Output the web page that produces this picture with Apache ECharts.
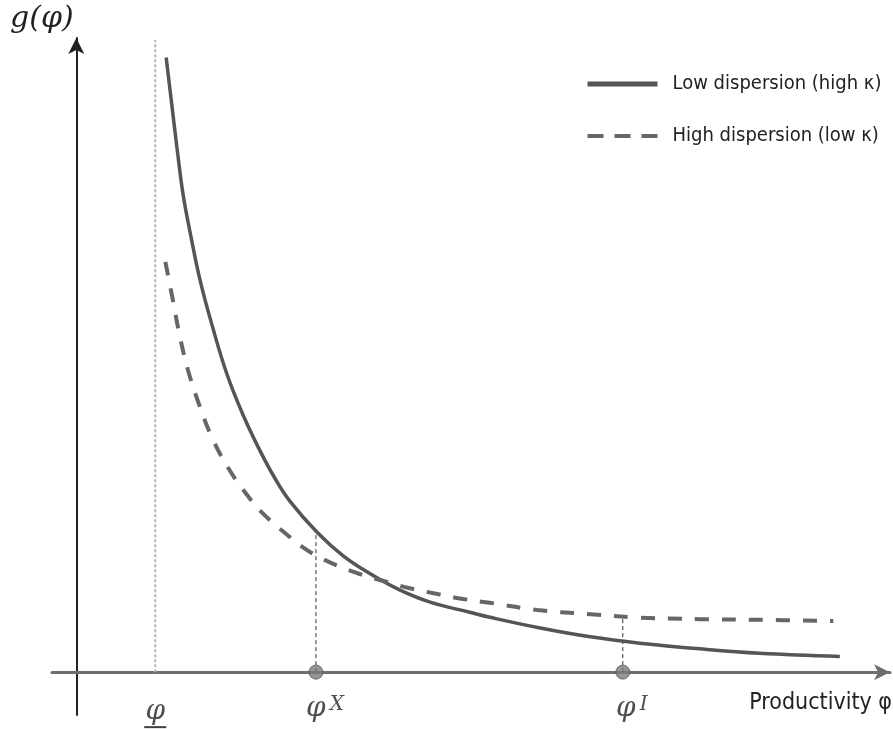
<!DOCTYPE html>
<html>
<head>
<meta charset="utf-8">
<script src="https://cdn.jsdelivr.net/npm/echarts@6/dist/echarts.min.js"></script>
<style>
html, body { margin: 0; padding: 0; background: #fff; }
#chart { width: 893px; height: 729px; }
</style>
</head>
<body>
<div id="chart"></div>
<script>
// 实线：低离散度 (高 kappa)
const lowDispX = [1.11, 1.19, 1.25, 1.32, 1.41, 1.53, 1.68, 1.86, 2.06, 2.27, 2.46, 2.64, 2.98, 3.30, 3.63, 4.00, 4.37, 4.86, 5.11, 5.73, 6.35, 6.96, 7.70, 8.44, 9.43];
const lowDispY = [9.75, 8.89, 8.25, 7.57, 6.95, 6.21, 5.49, 4.73, 4.08, 3.51, 3.06, 2.71, 2.21, 1.84, 1.56, 1.30, 1.11, 0.95, 0.87, 0.70, 0.56, 0.46, 0.37, 0.30, 0.25];
// 虚线：高离散度 (低 kappa)
const highDispX = [1.10, 1.19, 1.28, 1.38, 1.51, 1.68, 1.90, 2.11, 2.31, 2.64, 2.80, 3.05, 3.47, 3.84, 4.12, 4.46, 4.78, 5.11, 5.73, 6.35, 6.88, 7.70, 8.44, 9.35];
const highDispY = [6.51, 5.92, 5.32, 4.79, 4.27, 3.71, 3.19, 2.81, 2.51, 2.14, 1.98, 1.79, 1.57, 1.43, 1.33, 1.24, 1.16, 1.10, 0.98, 0.92, 0.87, 0.84, 0.83, 0.81];
const seriesNames = ['Low dispersion (high κ)', 'High dispersion (low κ)'];

// 几个临界生产率
const phiLow = 0.975;
const phiLowTop = 10.03;
const phiX = 2.96;
const gAtPhiX = 2.22;
const phiI = 6.75;
const gAtPhiI = 0.87;

const textFont = "'Liberation Sans Narrow', 'DejaVu Sans Condensed', 'Liberation Sans', sans-serif";
const mathFont = "'DejaVu Serif', 'Liberation Serif', serif";

function zip(xs, ys) {
    return xs.map((x, i) => [x, ys[i]]);
}

let chart = echarts.init(document.getElementById('chart'));

chart.setOption({
    animation: false,
    backgroundColor: '#fff',
    grid: { left: 52, right: 3, top: 38, bottom: 14 },
    legend: {
        orient: 'vertical',
        left: 580,
        top: 69,
        itemWidth: 70,
        itemHeight: 14,
        itemGap: 32,
        itemStyle: { opacity: 0 },
        data: [
            { name: seriesNames[0], lineStyle: { color: '#555', width: 5, type: 'solid' } },
            { name: seriesNames[1], lineStyle: { color: '#666', width: 4, type: [16, 11] } }
        ],
        textStyle: { fontFamily: textFont, fontSize: 20, color: '#222', padding: [0, 0, 0, 10] }
    },
    xAxis: {
        type: 'value',
        min: -0.3,
        max: 10.05,
        axisLine: {
            onZero: true,
            symbol: ['none', 'arrow'],
            symbolSize: [12, 16],
            lineStyle: { color: '#6e6e6e', width: 3 }
        },
        axisTick: { show: false },
        axisLabel: { show: false },
        splitLine: { show: false }
    },
    yAxis: {
        type: 'value',
        min: -0.68,
        max: 10.06,
        axisLine: {
            onZero: true,
            symbol: ['none', 'arrow'],
            symbolSize: [12, 16],
            lineStyle: { color: '#222', width: 2 }
        },
        axisTick: { show: false },
        axisLabel: { show: false },
        splitLine: { show: false }
    },
    graphic: [
        {
            type: 'text', left: 10, top: 4,
            style: { text: 'g(φ)', font: 'italic 30px ' + mathFont, fill: '#222' }
        },
        {
            type: 'text', right: 1, top: 692,
            style: { text: 'Productivity φ', font: '23px ' + textFont, fill: '#222' }
        }
    ],
    series: [
        {
            name: 'cutoff',
            type: 'line',
            data: [[phiLow, 0], [phiLow, phiLowTop]],
            symbol: 'none',
            silent: true,
            lineStyle: { color: '#b5b5b5', width: 2, type: [3, 2] },
            z: 1
        },
        {
            name: 'phiX line',
            type: 'line',
            data: [[phiX, 0], [phiX, gAtPhiX]],
            symbol: 'none',
            lineStyle: { color: '#333', width: 1, type: [4, 3] },
            z: 1
        },
        {
            name: 'phiI line',
            type: 'line',
            data: [[phiI, 0], [phiI, gAtPhiI]],
            symbol: 'none',
            lineStyle: { color: '#333', width: 1, type: [4, 3] },
            z: 1
        },
        {
            name: seriesNames[0],
            type: 'line',
            data: zip(lowDispX, lowDispY),
            smooth: 0.4,
            symbol: 'none',
            color: '#555',
            lineStyle: { color: '#555', width: 3.5 },
            z: 3
        },
        {
            name: seriesNames[1],
            type: 'line',
            data: zip(highDispX, highDispY),
            smooth: 0.4,
            symbol: 'none',
            color: '#666',
            lineStyle: { color: '#666', width: 4, type: [14, 13] },
            z: 3
        },
        {
            name: 'thresholds',
            type: 'scatter',
            data: [
                { value: [phiX, 0], label: { formatter: '{p|φ}{s|X}' } },
                { value: [phiI, 0], label: { formatter: '{p|φ}{s|I}' } }
            ],
            symbolSize: 14,
            itemStyle: { color: '#7a7a7a', borderColor: '#555', borderWidth: 1 },
            label: {
                show: true,
                position: 'bottom',
                distance: 15,
                offset: [9, 0],
                rich: {
                    p: { fontFamily: mathFont, fontStyle: 'italic', fontSize: 28, color: '#222' },
                    s: { fontFamily: mathFont, fontStyle: 'italic', fontSize: 20, color: '#222', verticalAlign: 'top', padding: [0, 0, 6, 4] }
                }
            },
            z: 5
        },
        {
            name: 'lower bound',
            type: 'scatter',
            data: [[phiLow, 0]],
            symbolSize: 0,
            itemStyle: { color: 'transparent' },
            label: {
                show: true,
                position: 'bottom',
                distance: 26,
                formatter: '{p|φ}\n{u|}',
                rich: {
                    p: { fontFamily: mathFont, fontStyle: 'italic', fontSize: 28, color: '#222', align: 'center' },
                    u: { width: 22, height: 2, backgroundColor: '#111', align: 'center' }
                }
            },
            z: 5
        }
    ]
});

window.onresize = function () {
    chart.resize();
};
</script>
</body>
</html>
